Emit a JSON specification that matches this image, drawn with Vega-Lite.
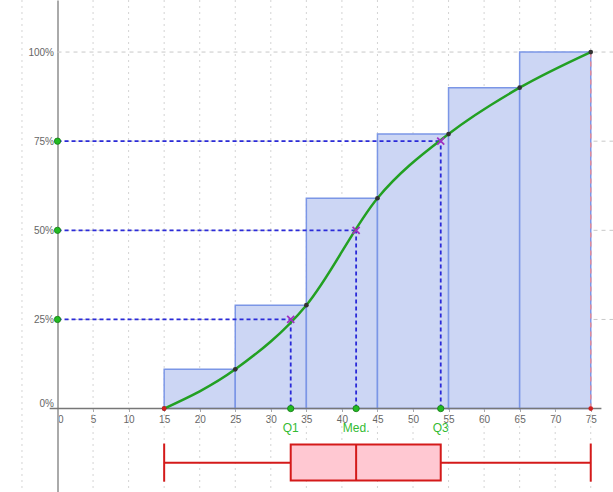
{
  "$schema": "https://vega.github.io/schema/vega-lite/v6.json",
  "width": 613,
  "height": 492,
  "autosize": {"type": "none"},
  "padding": 0,
  "background": "white",
  "config": {"view": {"stroke": null}},
  "datasets": {
    "vgrid": [{"x": -5}, {"x": 5}, {"x": 10}, {"x": 15}, {"x": 20}, {"x": 25}, {"x": 30}, {"x": 35}, {"x": 40}, {"x": 45}, {"x": 50}, {"x": 55}, {"x": 60}, {"x": 65}, {"x": 70}, {"x": 75}],
    "hgrid": [{"p": 25, "x0": 0, "x1": 78.13}, {"p": 50, "x0": 0, "x1": 78.13}, {"p": 75, "x0": 0, "x1": 78.13}, {"p": 100, "x0": 0, "x1": 78.13}],
    "bins": [
      {"lo": 15, "hi": 25, "base": 0, "cum": 11},
      {"lo": 25, "hi": 35, "base": 0, "cum": 29},
      {"lo": 35, "hi": 45, "base": 0, "cum": 59},
      {"lo": 45, "hi": 55, "base": 0, "cum": 77},
      {"lo": 55, "hi": 65, "base": 0, "cum": 90},
      {"lo": 65, "hi": 75, "base": 0, "cum": 100}
    ],
    "ogive": [
      {"x": 15, "p": 0},
      {"x": 25, "p": 11},
      {"x": 35, "p": 29},
      {"x": 45, "p": 59},
      {"x": 55, "p": 77},
      {"x": 65, "p": 90},
      {"x": 75, "p": 100}
    ],
    "ends": [{"x": 15, "p": 0}, {"x": 75, "p": 0}],
    "redline": [{"x": 75, "p0": 0, "p1": 100}],
    "xaxis": [{"x0": -1.1, "x1": 76.5, "p": 0}],
    "quart": [
      {"name": "Q1", "value": 32.8, "p": 25, "zero": 0},
      {"name": "Med.", "value": 42, "p": 50, "zero": 0},
      {"name": "Q3", "value": 53.9, "p": 75, "zero": 0}
    ],
    "box": [{"min": 15, "q1": 32.8, "med": 42, "q3": 53.9, "max": 75, "top": -10.1, "bot": -20.2, "mid": -15.2, "capTop": -9.8, "capBot": -20.5}]
  },
  "layer": [
    {
      "data": {"name": "vgrid"},
      "mark": {"type": "rule", "color": "#d4d4d4", "strokeDash": [2, 4], "strokeWidth": 1},
      "encoding": {
        "x": {"field": "x", "type": "quantitative", "scale": {"domain": [-8.09, 78.13], "nice": false, "zero": false},
          "axis": {"orient": "bottom", "offset": -83.5, "values": [0, 5, 10, 15, 20, 25, 30, 35, 40, 45, 50, 55, 60, 65, 70, 75], "title": null, "domain": false, "grid": false, "ticks": true, "tickSize": 3, "tickColor": "#aaa", "labelFont": "Liberation Sans", "labelFontSize": 10, "labelColor": "#666", "labelPadding": 3,
            "labelExpr": "datum.value == 0 ? '\u00a0\u00a00' : datum.label",
            "labelAlign": {"condition": {"test": "datum.value == 0", "value": "left"}, "value": "center"}}}
      }
    },
    {
      "data": {"name": "hgrid"},
      "mark": {"type": "rule", "color": "#c8c8c8", "strokeDash": [4, 4], "strokeWidth": 1},
      "encoding": {
        "y": {"field": "p", "type": "quantitative", "scale": {"domain": [-23.4, 114.6], "nice": false, "zero": false},
          "axis": {"orient": "left", "offset": -57.5, "values": [0, 25, 50, 75, 100], "labelExpr": "datum.value + '%'", "title": null, "domain": true, "domainColor": "#aaa", "domainWidth": 2, "grid": false, "ticks": false, "labelFont": "Liberation Sans", "labelFontSize": 10, "labelColor": "#666", "labelPadding": 4,
            "labelBaseline": {"condition": {"test": "datum.value == 0", "value": "bottom"}, "value": "middle"}}},
        "x": {"field": "x0", "type": "quantitative"},
        "x2": {"field": "x1"}
      }
    },
    {
      "data": {"name": "bins"},
      "mark": {"type": "rect", "fill": "#ccd6f4", "stroke": "#7b96e6", "strokeWidth": 1.5},
      "encoding": {
        "x": {"field": "lo", "type": "quantitative"},
        "x2": {"field": "hi"},
        "y": {"field": "base", "type": "quantitative"},
        "y2": {"field": "cum"}
      }
    },
    {
      "data": {"name": "redline"},
      "mark": {"type": "rule", "color": "#e08a9a", "strokeDash": [5, 4], "strokeWidth": 1.5},
      "encoding": {
        "x": {"field": "x", "type": "quantitative"},
        "y": {"field": "p0", "type": "quantitative"},
        "y2": {"field": "p1"}
      }
    },
    {
      "data": {"name": "xaxis"},
      "mark": {"type": "rule", "color": "#777", "strokeWidth": 1.5},
      "encoding": {
        "x": {"field": "x0", "type": "quantitative"},
        "x2": {"field": "x1"},
        "y": {"field": "p", "type": "quantitative"}
      }
    },
    {
      "data": {"name": "quart"},
      "mark": {"type": "rule", "color": "#2a2ad8", "strokeDash": [4, 3], "strokeWidth": 1.8},
      "encoding": {
        "x": {"field": "zero", "type": "quantitative"},
        "x2": {"field": "value"},
        "y": {"field": "p", "type": "quantitative"}
      }
    },
    {
      "data": {"name": "quart"},
      "mark": {"type": "rule", "color": "#2a2ad8", "strokeDash": [4, 3], "strokeWidth": 1.8},
      "encoding": {
        "x": {"field": "value", "type": "quantitative"},
        "y": {"field": "zero", "type": "quantitative"},
        "y2": {"field": "p"}
      }
    },
    {
      "data": {"name": "ogive"},
      "mark": {"type": "line", "color": "#22a022", "strokeWidth": 2.5, "interpolate": "monotone"},
      "encoding": {
        "x": {"field": "x", "type": "quantitative"},
        "y": {"field": "p", "type": "quantitative"}
      }
    },
    {
      "data": {"name": "ogive"},
      "mark": {"type": "point", "filled": true, "size": 22, "color": "#333333", "opacity": 1},
      "encoding": {
        "x": {"field": "x", "type": "quantitative"},
        "y": {"field": "p", "type": "quantitative"}
      }
    },
    {
      "data": {"name": "ends"},
      "mark": {"type": "point", "filled": true, "size": 22, "color": "#d02020", "opacity": 1},
      "encoding": {
        "x": {"field": "x", "type": "quantitative"},
        "y": {"field": "p", "type": "quantitative"}
      }
    },
    {
      "data": {"name": "quart"},
      "mark": {"type": "point", "filled": true, "size": 40, "color": "#22bb22", "stroke": "#117711", "strokeWidth": 0.8, "opacity": 1},
      "encoding": {
        "x": {"field": "zero", "type": "quantitative"},
        "y": {"field": "p", "type": "quantitative"}
      }
    },
    {
      "data": {"name": "quart"},
      "mark": {"type": "point", "filled": true, "size": 40, "color": "#22bb22", "stroke": "#117711", "strokeWidth": 0.8, "opacity": 1},
      "encoding": {
        "x": {"field": "value", "type": "quantitative"},
        "y": {"field": "zero", "type": "quantitative"}
      }
    },
    {
      "data": {"name": "quart"},
      "mark": {"type": "point", "shape": "M-1,-1L1,1M-1,1L1,-1", "size": 50, "filled": false, "stroke": "#a030c0", "strokeWidth": 1.8, "opacity": 1},
      "encoding": {
        "x": {"field": "value", "type": "quantitative"},
        "y": {"field": "p", "type": "quantitative"}
      }
    },
    {
      "data": {"name": "quart"},
      "mark": {"type": "text", "color": "#33bb33", "font": "Liberation Sans", "fontSize": 12, "dy": 19, "baseline": "middle", "align": "center"},
      "encoding": {
        "x": {"field": "value", "type": "quantitative"},
        "y": {"field": "zero", "type": "quantitative"},
        "text": {"field": "name", "type": "nominal"}
      }
    },
    {
      "data": {"name": "box"},
      "mark": {"type": "rule", "color": "#d41a1a", "strokeWidth": 2},
      "encoding": {
        "x": {"field": "min", "type": "quantitative"},
        "x2": {"field": "q1"},
        "y": {"field": "mid", "type": "quantitative"}
      }
    },
    {
      "data": {"name": "box"},
      "mark": {"type": "rule", "color": "#d41a1a", "strokeWidth": 2},
      "encoding": {
        "x": {"field": "q3", "type": "quantitative"},
        "x2": {"field": "max"},
        "y": {"field": "mid", "type": "quantitative"}
      }
    },
    {
      "data": {"name": "box"},
      "mark": {"type": "rect", "fill": "#ffc8d2", "stroke": "#d41a1a", "strokeWidth": 2},
      "encoding": {
        "x": {"field": "q1", "type": "quantitative"},
        "x2": {"field": "q3"},
        "y": {"field": "top", "type": "quantitative"},
        "y2": {"field": "bot"}
      }
    },
    {
      "data": {"name": "box"},
      "mark": {"type": "rule", "color": "#d41a1a", "strokeWidth": 2},
      "encoding": {
        "x": {"field": "med", "type": "quantitative"},
        "y": {"field": "top", "type": "quantitative"},
        "y2": {"field": "bot"}
      }
    },
    {
      "data": {"name": "box"},
      "mark": {"type": "rule", "color": "#d41a1a", "strokeWidth": 2},
      "encoding": {
        "x": {"field": "min", "type": "quantitative"},
        "y": {"field": "capTop", "type": "quantitative"},
        "y2": {"field": "capBot"}
      }
    },
    {
      "data": {"name": "box"},
      "mark": {"type": "rule", "color": "#d41a1a", "strokeWidth": 2},
      "encoding": {
        "x": {"field": "max", "type": "quantitative"},
        "y": {"field": "capTop", "type": "quantitative"},
        "y2": {"field": "capBot"}
      }
    }
  ]
}
